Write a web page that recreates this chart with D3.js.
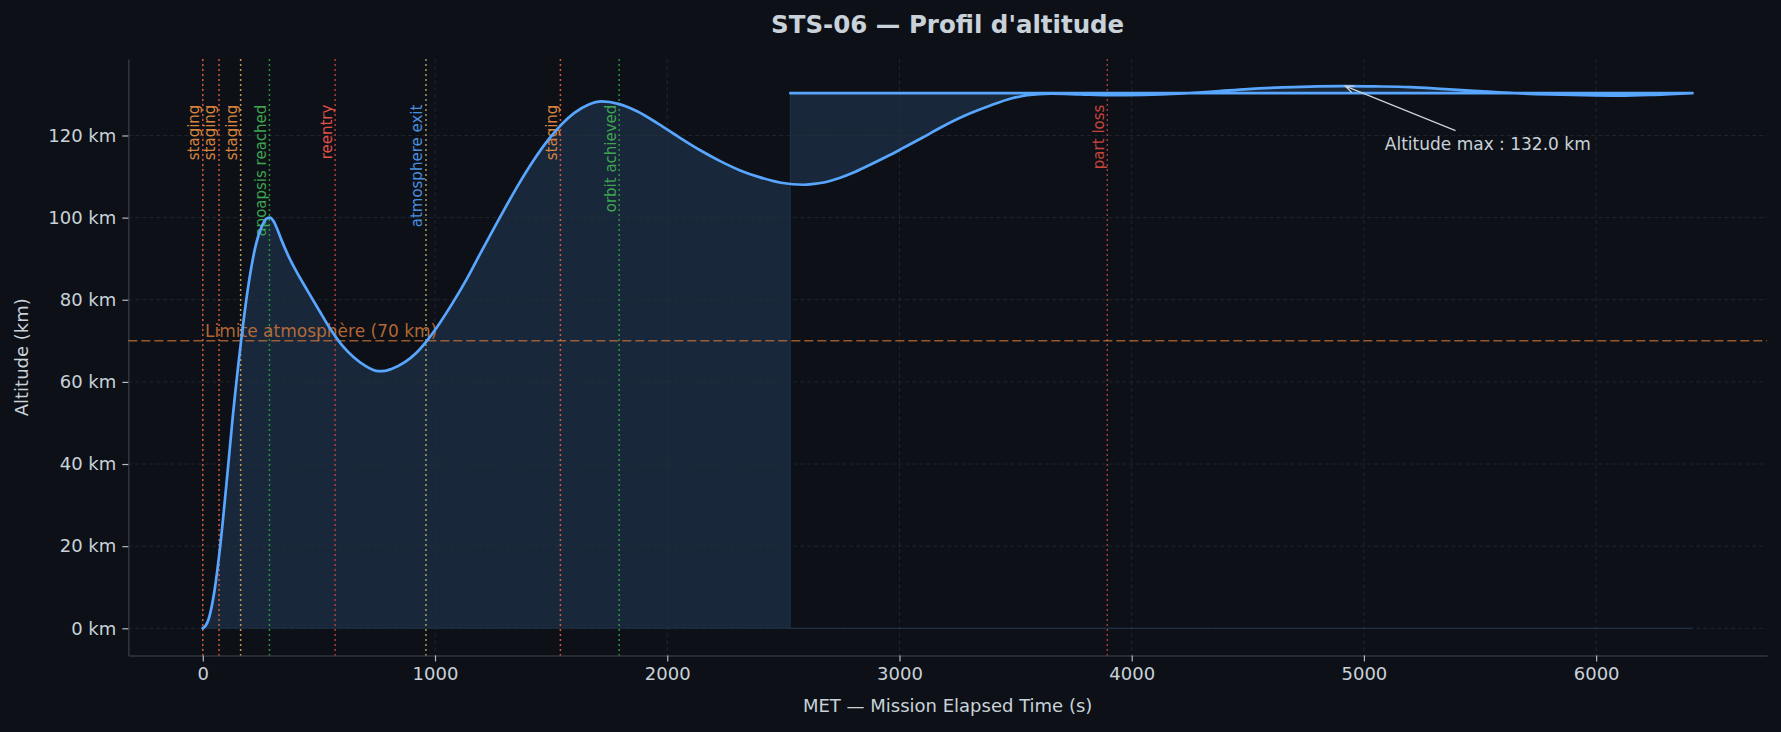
<!DOCTYPE html>
<html>
<head>
<meta charset="utf-8">
<script src="https://cdn.jsdelivr.net/npm/d3@7"></script>
<style>
  body { margin: 0; background: #0d1117; }
  svg { display: block; font-family: "DejaVu Sans", sans-serif; }
</style>
</head>
<body>
<svg id="chart" width="1781" height="732"></svg>
<script>
// altitude profile, MET (s) / altitude (km)
const metTime = [0, 12, 25, 50, 75, 100, 130, 165, 195, 225, 255, 275, 290, 305, 320, 340, 370, 400, 450, 500, 550,
  600, 650, 700, 730, 756, 785, 810, 870, 920, 965, 1020, 1080, 1140, 1200, 1280, 1360, 1424, 1490, 1545, 1600, 1660, 1718,
  1790, 1870, 1960, 2050, 2142, 2230, 2314, 2400, 2490, 2587, 2630, 2680, 2745, 2800, 2860, 2950, 3004, 3100, 3176, 3280,
  3392, 3480, 3550, 3650, 3780, 3900, 4050, 4200, 4350, 4500, 4650, 4800, 4920, 5050, 5200, 5350, 5500, 5650, 5800, 5950,
  6100, 6250, 6415];
const altitudeKm = [0, 0.6, 2.2, 9, 20, 34, 52, 70, 83, 92.5, 98, 99.8, 100, 99.1, 97.3, 94.4, 90.5, 87.2, 82.3, 77.5, 72.8,
  68.9, 66.0, 63.9, 63.0, 62.6, 62.7, 63.1, 64.8, 67.1, 70.0, 74.3, 79.6, 85.4, 91.8, 100.1, 108.1, 113.9, 119.1, 122.7, 125.5, 127.5, 128.3,
  127.7, 125.9, 122.9, 119.6, 116.4, 113.7, 111.5, 109.8, 108.5, 108.0, 108.2, 108.6, 109.7, 110.9, 112.5, 115.0, 116.6, 119.5, 121.9, 124.8,
  127.3, 129.0, 129.8, 130.2, 130.0, 129.8, 129.9, 130.2, 130.7, 131.3, 131.7, 131.95, 132.0, 131.95, 131.8, 131.3, 130.8, 130.3, 130.0, 129.8,
  129.7, 129.9, 130.3];

// end of the telemetry runs back along the plateau
const tailTime = [6415, 2530];
const tailAlt = [130.3, 130.3];

// mission events
const eventTime = [0, 70, 163, 287, 570, 961, 1540, 1793, 3895];
const eventLabel = ["staging", "staging", "staging", "apoapsis reached", "reentry", "atmosphere exit",
  "staging", "orbit achieved", "part loss"];
const eventLineColor = ["#e8603c", "#e8603c", "#d6a35c", "#2ea043", "#c0443c", "#b5a86a", "#e8603c", "#2ea043", "#b0403a"];
const eventTextColor = ["#d9843e", "#d9843e", "#d9843e", "#3da450", "#e0504a", "#4a8fe0", "#d9843e", "#3da450", "#c8453c"];

const xTicks = [0, 1000, 2000, 3000, 4000, 5000, 6000];
const yTicks = [0, 20, 40, 60, 80, 100, 120];
const atmosphereLimit = 70;

const svg = d3.select("#chart");
const M = { left: 128.3, right: 1767, top: 59.1, bottom: 655.4 };
const textColor = "#c9d1d9";

const allTime = metTime.concat(tailTime);
const tMin = d3.min(allTime), tMax = d3.max(allTime);
const aMax = d3.max(altitudeKm);
const tPad = (tMax - tMin) * 0.05, aPad = aMax * 0.05;

const x = d3.scaleLinear().domain([tMin - tPad, tMax + tPad]).range([M.left, M.right]);
const y = d3.scaleLinear().domain([-aPad, aMax + aPad]).range([M.bottom, M.top]);

// title
svg.append("text")
  .attr("x", (M.left + M.right) / 2).attr("y", 33)
  .attr("text-anchor", "middle")
  .attr("font-size", "24.5px").attr("font-weight", "bold")
  .attr("fill", textColor)
  .text("STS-06 — Profil d'altitude");

// fill under the profile (fill_between semantics, so the tail cuts it)
const mainPts = metTime.map((t, i) => [t, altitudeKm[i]]);
const tailPts = tailTime.map((t, i) => [t, tailAlt[i]]);
const smooth = d3.line().x(d => x(d[0])).y(d => y(d[1])).curve(d3.curveMonotoneX);
const straight = d3.line().x(d => x(d[0])).y(d => y(d[1]));
const profilePath = smooth(mainPts) + straight(tailPts).replace(/^M/, "L");
const basePts = mainPts.concat(tailPts).map(d => [d[0], 0]).reverse();

svg.append("path")
  .attr("d", profilePath + straight(basePts).replace(/^M/, "L") + "Z")
  .attr("fill", "#58a6ff").attr("fill-opacity", 0.15)
  .attr("stroke", "#58a6ff").attr("stroke-opacity", 0.15).attr("stroke-width", 1);

// grid
const grid = svg.append("g").attr("stroke", "#30363d").attr("stroke-width", 0.8)
  .attr("stroke-dasharray", "4,3").attr("opacity", 0.7);
grid.selectAll(".gx").data(xTicks).enter().append("line")
  .attr("x1", d => x(d)).attr("x2", d => x(d)).attr("y1", M.top).attr("y2", M.bottom);
grid.selectAll(".gy").data(yTicks).enter().append("line")
  .attr("x1", M.left).attr("x2", M.right).attr("y1", d => y(d)).attr("y2", d => y(d));

// axes
const xAxis = svg.append("g").attr("transform", `translate(0,${M.bottom})`)
  .call(d3.axisBottom(x).tickValues(xTicks).tickFormat(d3.format("d")).tickSize(6).tickPadding(6).tickSizeOuter(0));
const yAxis = svg.append("g").attr("transform", `translate(${M.left},0)`)
  .call(d3.axisLeft(y).tickValues(yTicks).tickFormat(d => d + " km").tickSize(6).tickPadding(6).tickSizeOuter(0));
[xAxis, yAxis].forEach(g => {
  g.attr("font-family", null).attr("font-size", null);
  g.select(".domain").attr("stroke", "#30363d").attr("stroke-width", 1.5);
  g.selectAll(".tick line").attr("stroke", "#b1bac4").attr("stroke-width", 1.2);
  g.selectAll(".tick text").attr("fill", textColor).attr("font-size", "18px");
});

svg.append("text")
  .attr("x", (M.left + M.right) / 2).attr("y", 712)
  .attr("text-anchor", "middle").attr("font-size", "18px").attr("fill", textColor)
  .text("MET — Mission Elapsed Time (s)");
svg.append("text")
  .attr("transform", `translate(28,${(M.top + M.bottom) / 2}) rotate(-90)`)
  .attr("text-anchor", "middle").attr("font-size", "18px").attr("fill", textColor)
  .text("Altitude (km)");

// event markers
const ev = svg.append("g");
eventTime.forEach((t, i) => {
  ev.append("line")
    .attr("x1", x(t)).attr("x2", x(t)).attr("y1", M.top).attr("y2", M.bottom)
    .attr("stroke", eventLineColor[i]).attr("stroke-width", 1.5)
    .attr("stroke-dasharray", "2,3").attr("opacity", 0.9);
  ev.append("text")
    .attr("transform", `translate(${x(t) - 3.6},${y(aMax * 0.966)}) rotate(-90)`)
    .attr("text-anchor", "end").attr("font-size", "15px")
    .attr("fill", eventTextColor[i])
    .text(eventLabel[i]);
});

// atmosphere limit
svg.append("line")
  .attr("x1", M.left).attr("x2", M.right)
  .attr("y1", y(atmosphereLimit)).attr("y2", y(atmosphereLimit))
  .attr("stroke", "#d2773a").attr("stroke-opacity", 0.7)
  .attr("stroke-width", 1.5).attr("stroke-dasharray", "9,4");
svg.append("text")
  .attr("x", x(10)).attr("y", y(atmosphereLimit + 1))
  .attr("font-size", "17px").attr("fill", "#d2773a").attr("fill-opacity", 0.85)
  .text(`Limite atmosphère (${atmosphereLimit} km)`);

// profile line
svg.append("path")
  .attr("d", profilePath)
  .attr("fill", "none").attr("stroke", "#58a6ff").attr("stroke-width", 2.7)
  .attr("stroke-linecap", "round").attr("stroke-linejoin", "round");

// max altitude annotation
const iMax = altitudeKm.indexOf(aMax);
const px = x(metTime[iMax]), py = y(aMax);
const label = svg.append("text")
  .attr("x", x(metTime[iMax] + 170)).attr("y", y(aMax - 14))
  .attr("dominant-baseline", "central")
  .attr("font-size", "17px").attr("fill", textColor)
  .text(`Altitude max : ${aMax.toFixed(1)} km`);
const bb = label.node().getBBox();
const cx = bb.x + bb.width / 2, cy = bb.y + bb.height / 2;
const ty = bb.y - 3;
const tx = cx + (px - cx) * (ty - cy) / (py - cy);
const ang = Math.atan2(py - ty, px - tx);
const head = 9, spread = 0.4;
svg.append("path")
  .attr("d", `M${tx},${ty}L${px},${py}` +
    `M${px - head * Math.cos(ang - spread)},${py - head * Math.sin(ang - spread)}L${px},${py}` +
    `L${px - head * Math.cos(ang + spread)},${py - head * Math.sin(ang + spread)}`)
  .attr("fill", "none").attr("stroke", textColor).attr("stroke-width", 1.3);
</script>
</body>
</html>
